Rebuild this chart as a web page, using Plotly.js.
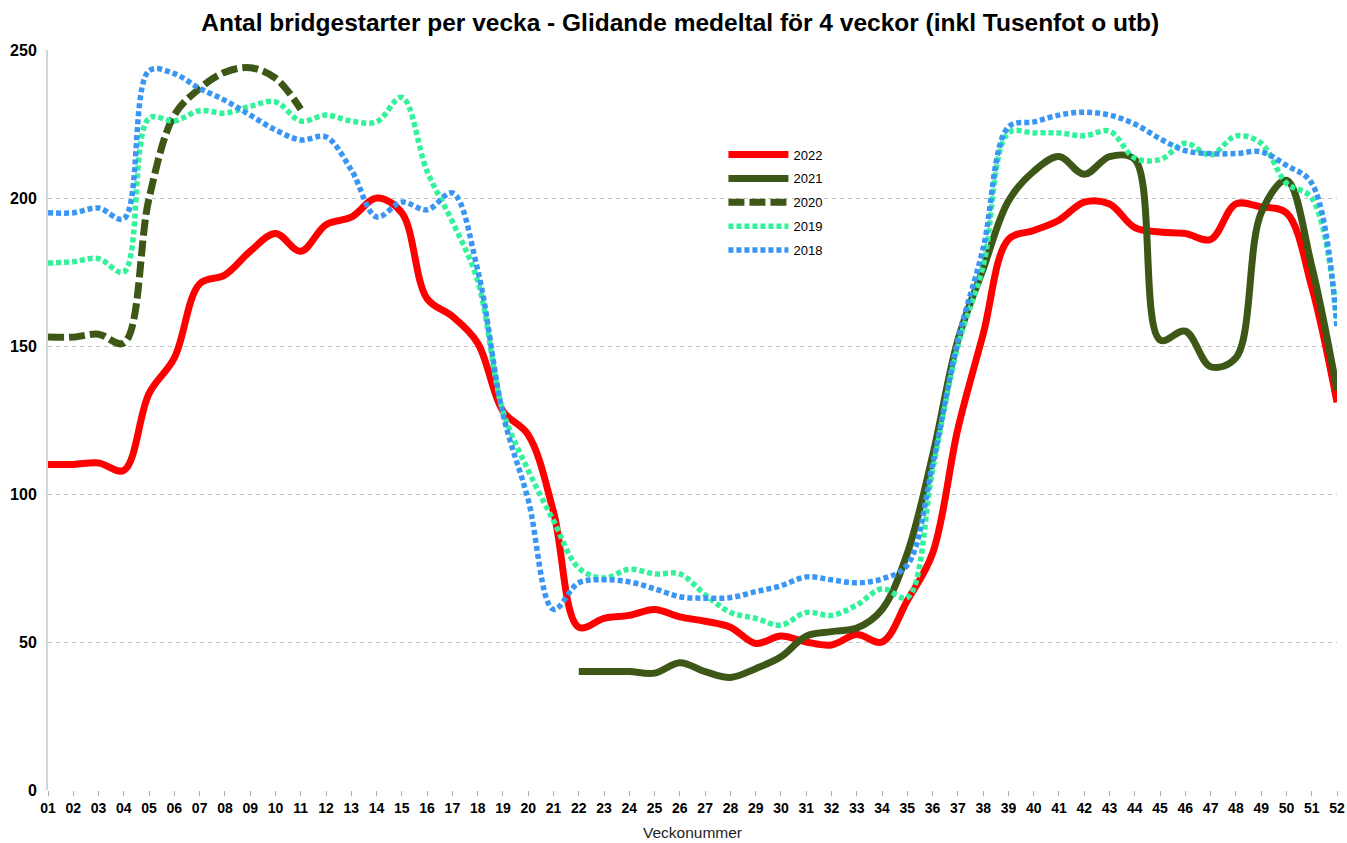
<!DOCTYPE html>
<html>
<head>
<meta charset="utf-8">
<script src="https://cdn.plot.ly/plotly-3.0.1.min.js"></script>
<style>html,body{margin:0;padding:0;background:#fff;}#chart{width:1347px;height:843px;}</style>
</head>
<body>
<div id="chart"></div>
<script>
const weeks = ["01","02","03","04","05","06","07","08","09","10","11","12","13","14","15","16","17","18","19","20","21","22","23","24","25","26","27","28","29","30","31","32","33","34","35","36","37","38","39","40","41","42","43","44","45","46","47","48","49","50","51","52"];

const y2022 = [110,110,110.5,108,134,146,171,174,182,188,182,191,193.5,200,195,166,160,151,128,120,94,55,58,59,61,58.5,57,55,49.5,52,50,49,52.5,50,64,80,122,154,186,189,192.5,198.6,198,190,188.5,188,186,198,197,195,170,131];

const y2021 = [null,null,null,null,null,null,null,null,null,null,null,null,null,null,null,null,null,null,null,null,null,40,40,40,39.5,43,40,38,41,45,52,53.5,54.7,61,80,113,152,176,199,209,214,208,214,213,152,155,143,146,195,206,177,135];

const y2020 = [153,153,154,151,200,228,237,242.5,244,240.5,230];

const y2019 = [178,178.5,179.5,175,227,226,229.5,228.7,231,232.5,226,228,226,225.7,234,209,192,172,128,108,91,75,71.6,74.6,73,73,66,60,58,55.7,60,59,62.5,68,65,108,150,177,222,222,222,221,222.6,213.5,213,218.5,214.5,221,218.5,205,200,159];

const y2018 = [195,195,196.6,193,243,242,237,233,228,223,219.6,220.6,209.5,193.6,198.6,196,201.7,175.7,127,98,61,70,71,70.3,68,65.3,64.8,65,67,69,72,71,70,71.3,76,110,152,183,224,225.7,228,229,228,225,220,216,215,215,215.6,211,205,156];

const seriesNames = ["2022","2021","2020","2019","2018"];

const traces = [
  {x: weeks, y: y2022, name: seriesNames[0], line:{color:'#ff0000', width:7, shape:'spline', smoothing:1}},
  {x: weeks, y: y2021, name: seriesNames[1], line:{color:'#3d5716', width:7, shape:'spline', smoothing:1}},
  {x: weeks.slice(0, y2020.length), y: y2020, name: seriesNames[2], line:{color:'#3d5716', width:7, shape:'spline', smoothing:1, dash:'16px,5px'}},
  {x: weeks, y: y2019, name: seriesNames[3], line:{color:'#33f29a', width:5.5, shape:'spline', smoothing:1, dash:'5px,3px'}},
  {x: weeks, y: y2018, name: seriesNames[4], line:{color:'#3a96f5', width:5.5, shape:'spline', smoothing:1, dash:'5px,3px'}}
].map((t, i) => Object.assign({type:'scatter', mode:'lines', connectgaps:false, hoverinfo:'skip', legendgroup:'g'+i}, t));

const layout = {
  width:1347, height:843,
  margin:{l:48, r:10, t:50, b:53},
  paper_bgcolor:'#ffffff', plot_bgcolor:'#ffffff',
  font:{family:'Liberation Sans, Arial, sans-serif', color:'#000'},
  title:{text:'<b>Antal bridgestarter per vecka - Glidande medeltal för 4 veckor (inkl Tusenfot o utb)</b>', font:{size:24.5, family:'Liberation Sans, Arial, sans-serif', color:'#000'}, x:0.505, xanchor:'center', y:0.973, yanchor:'middle'},
  xaxis:{
    type:'category', range:[0, 51],
    showgrid:false, showline:false,
    ticks:'outside', ticklen:5, tickcolor:'#b0b0b0', tickwidth:1,
    tickfont:{size:14, family:'Liberation Sans, Arial, sans-serif', color:'#000', weight:'bold'},
    title:{text:'Veckonummer', font:{size:15.5, color:'#222'}, standoff:12},
    zeroline:false, fixedrange:true
  },
  yaxis:{
    range:[0,250], tickvals:[0,50,100,150,200,250],
    showgrid:true, gridcolor:'#c4c4c4', griddash:'4px,4px', gridwidth:1,
    showline:true, linecolor:'#d4d4d4', linewidth:2,
    ticks:'', ticklabelstandoff:6,
    tickfont:{size:16, family:'Liberation Sans, Arial, sans-serif', color:'#000', weight:'bold'},
    zeroline:false, fixedrange:true
  },
  showlegend:true,
  legend:{x:0.524, y:0.879, xanchor:'left', yanchor:'top', bgcolor:'rgba(255,255,255,0)', font:{size:13, color:'#000'}, tracegroupgap:4, itemwidth:60},
};

Plotly.newPlot('chart', traces, layout, {displayModeBar:false, staticPlot:true});
</script>
</body>
</html>
